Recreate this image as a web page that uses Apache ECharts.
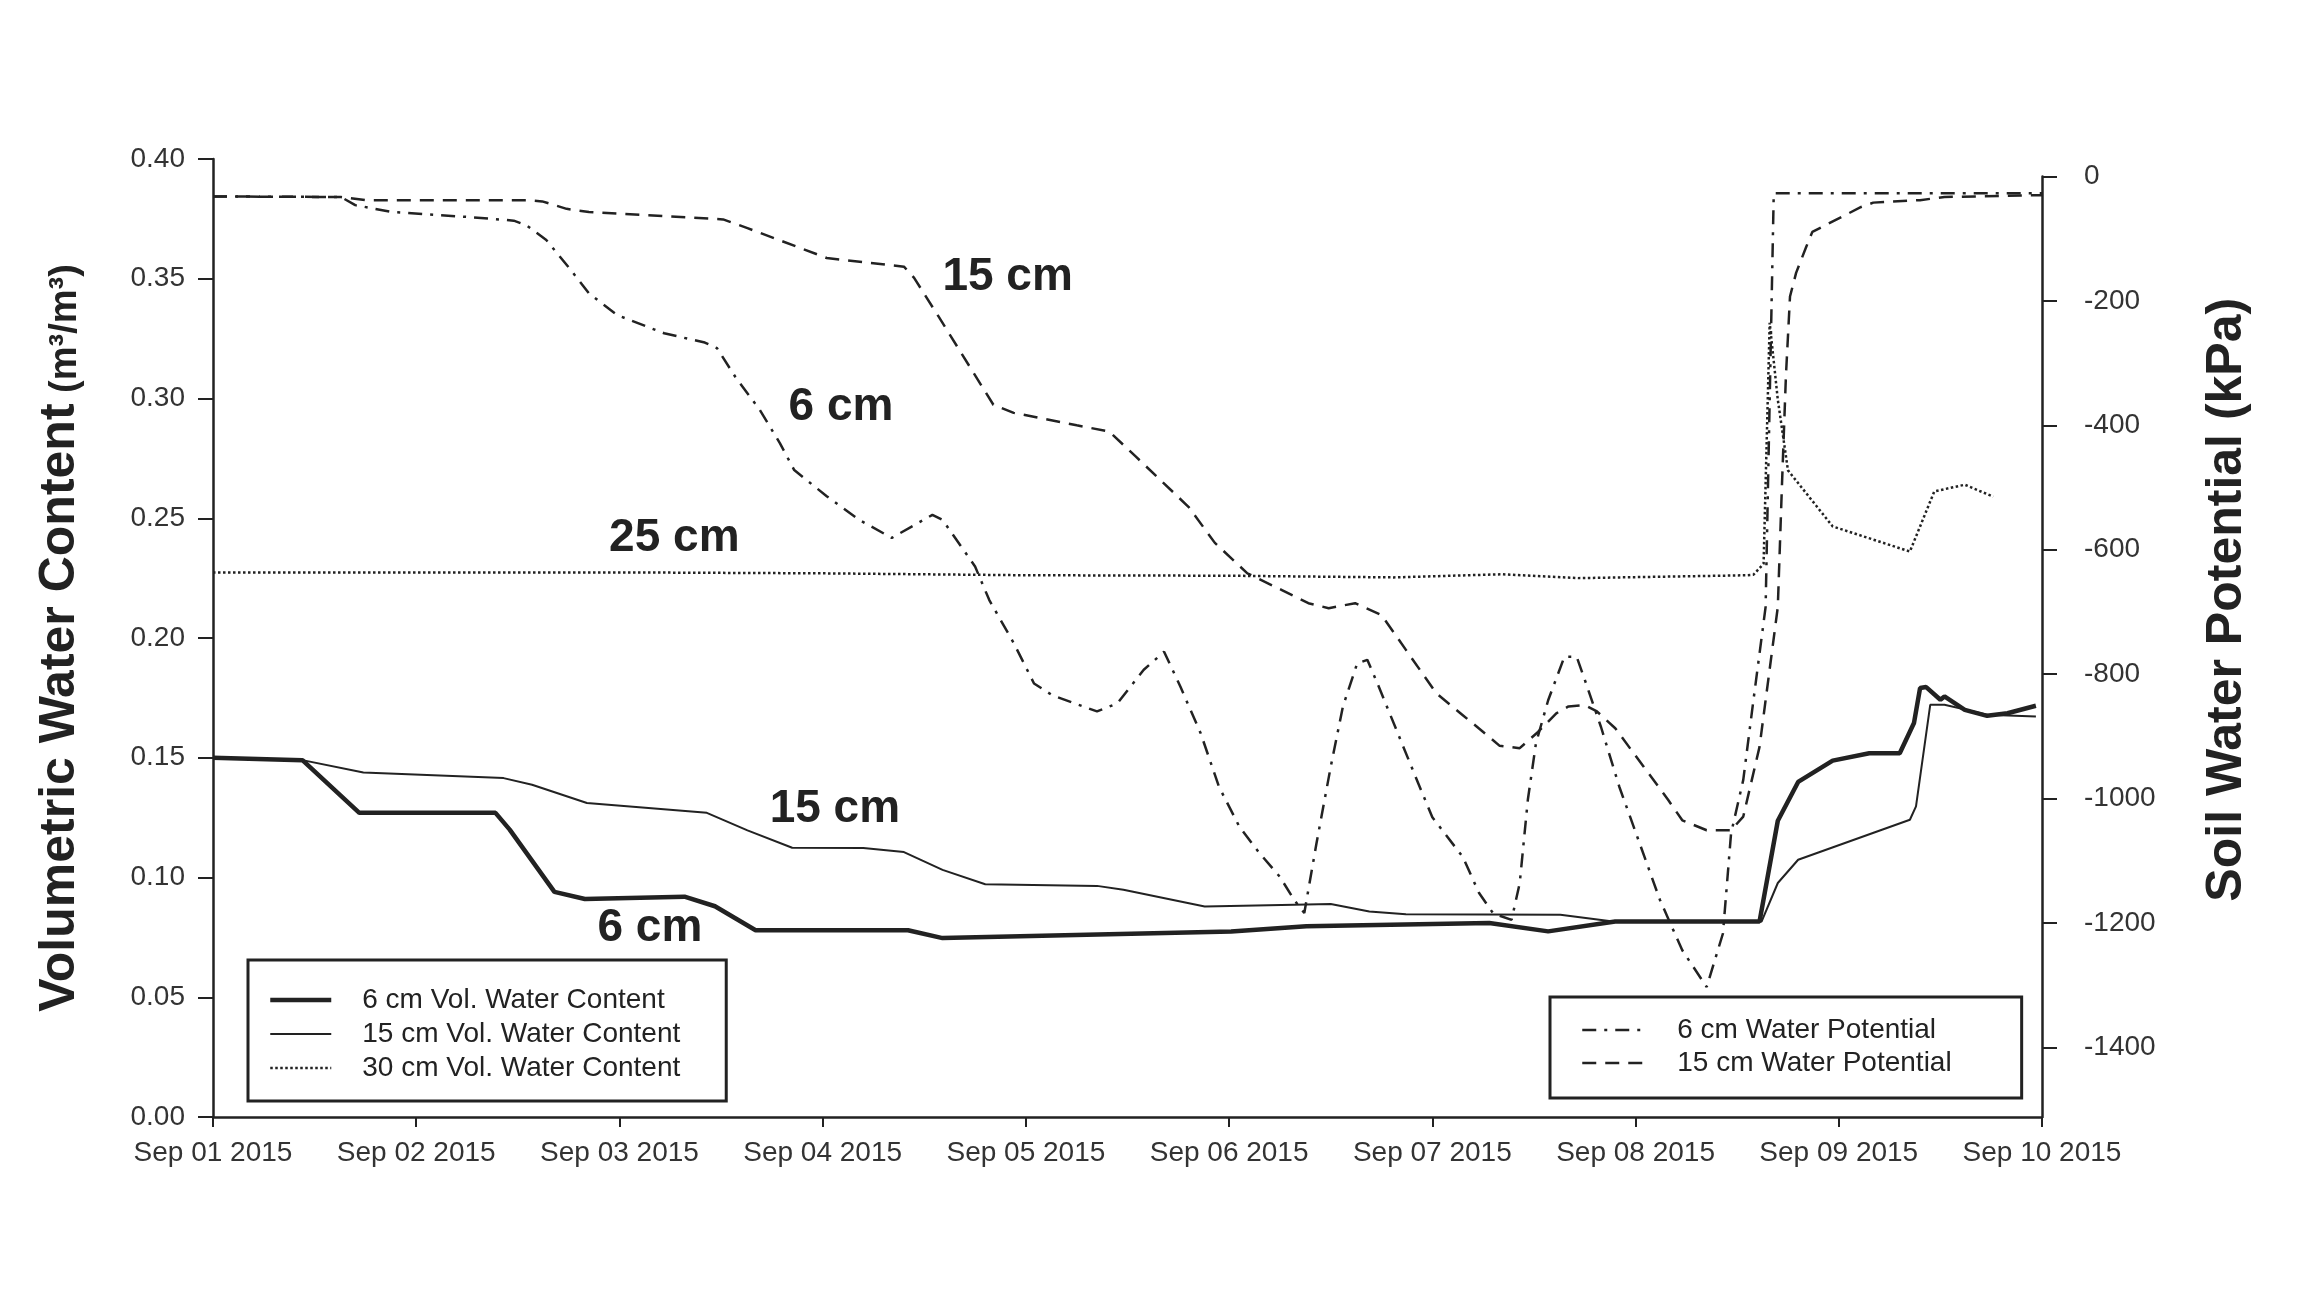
<!DOCTYPE html>
<html>
<head>
<meta charset="utf-8">
<script src="https://cdn.jsdelivr.net/npm/echarts@6/dist/echarts.min.js"></script>
<style>
  html, body { margin: 0; padding: 0; background: #fff; }
  #chart { width: 2310px; height: 1299px; }
</style>
</head>
<body>
<div id="chart"></div>
<script>
// x = days since Sep 01 2015 00:00
var dayLabels = ['Sep 01 2015', 'Sep 02 2015', 'Sep 03 2015', 'Sep 04 2015', 'Sep 05 2015',
                 'Sep 06 2015', 'Sep 07 2015', 'Sep 08 2015', 'Sep 09 2015', 'Sep 10 2015'];
var kpaTicks = [0, -200, -400, -600, -800, -1000, -1200, -1400];

// volumetric water content (m3/m3)
var vwc6 = [[0, 0.150], [0.44, 0.149], [0.72, 0.127], [1.39, 0.127], [1.46, 0.120], [1.68, 0.094],
  [1.83, 0.091], [2.32, 0.092], [2.47, 0.088], [2.67, 0.078], [3.42, 0.078], [3.59, 0.0747],
  [5.01, 0.0775], [5.38, 0.0796], [6.28, 0.081], [6.57, 0.0775], [6.90, 0.0816], [7.61, 0.0816],
  [7.70, 0.1237], [7.80, 0.1399], [7.97, 0.1488], [8.15, 0.1519], [8.30, 0.1519], [8.37, 0.1645],
  [8.40, 0.1791], [8.43, 0.1795], [8.50, 0.1742], [8.52, 0.1756], [8.62, 0.170], [8.73, 0.1675],
  [8.83, 0.1686], [8.97, 0.1717]];
var vwc15 = [[0, 0.150], [0.44, 0.149], [0.74, 0.1438], [1.43, 0.1415], [1.57, 0.1387], [1.84, 0.1311],
  [2.43, 0.127], [2.63, 0.1197], [2.85, 0.1124], [3.20, 0.1123], [3.40, 0.1106], [3.59, 0.1032],
  [3.80, 0.0972], [4.35, 0.0965], [4.48, 0.0949], [4.88, 0.0879], [5.32, 0.0886], [5.50, 0.0889],
  [5.69, 0.0858], [5.87, 0.0847], [6.63, 0.0844], [6.87, 0.0818], [7.62, 0.0816], [7.70, 0.0977],
  [7.80, 0.1074], [8.35, 0.1241], [8.38, 0.1297], [8.45, 0.1721], [8.52, 0.1721], [8.73, 0.168],
  [8.97, 0.1672]];
var vwc30 = [[0, 0.2274], [2.0, 0.2274], [3.0, 0.2270], [4.0, 0.2262], [5.0, 0.2260], [5.81, 0.2253],
  [6.34, 0.2266], [6.72, 0.2250], [7.55, 0.2262], [7.58, 0.2264], [7.63, 0.231], [7.66, 0.3316],
  [7.70, 0.2995], [7.75, 0.270], [7.97, 0.2466], [8.35, 0.2361], [8.47, 0.2612], [8.62, 0.264],
  [8.76, 0.259]];

// soil water potential (kPa)
var wp6 = [[0, -32], [0.63, -33], [0.70, -46], [0.88, -57], [1.25, -65], [1.48, -71], [1.54, -78],
  [1.64, -102], [1.76, -150], [1.85, -188], [1.99, -223], [2.22, -252], [2.42, -267], [2.48, -276],
  [2.57, -322], [2.69, -375], [2.79, -429], [2.86, -472], [3.02, -514], [3.18, -552], [3.34, -581],
  [3.54, -544], [3.59, -552], [3.75, -627], [3.82, -681], [3.94, -750], [4.04, -815], [4.13, -834],
  [4.35, -860], [4.45, -847], [4.58, -793], [4.68, -764], [4.76, -820], [4.86, -895], [4.95, -981],
  [5.05, -1045], [5.15, -1088], [5.25, -1126], [5.32, -1163], [5.37, -1184], [5.43, -1072],
  [5.50, -949], [5.56, -852], [5.63, -783], [5.68, -777], [5.73, -815], [5.83, -895], [5.93, -975],
  [6.00, -1030], [6.15, -1094], [6.23, -1152], [6.30, -1185], [6.39, -1195], [6.43, -1136],
  [6.47, -1002], [6.51, -911], [6.57, -842], [6.65, -772], [6.71, -772], [6.75, -809], [6.83, -885],
  [6.92, -981], [7.02, -1072], [7.12, -1163], [7.23, -1244], [7.35, -1303], [7.43, -1217],
  [7.47, -1056], [7.53, -970], [7.58, -842], [7.64, -692], [7.68, -27], [9.0, -27]];
var wp15 = [[0, -32], [0.63, -33], [0.75, -38], [1.55, -38], [1.62, -40], [1.74, -52], [1.85, -57],
  [2.51, -69], [2.63, -83], [3.02, -131], [3.40, -145], [3.45, -163], [3.57, -225], [3.84, -367],
  [3.94, -380], [4.25, -400], [4.41, -410], [4.54, -450], [4.80, -531], [4.93, -589], [5.09, -638],
  [5.26, -665], [5.39, -686], [5.49, -694], [5.62, -686], [5.75, -705], [5.87, -761], [6.02, -831],
  [6.15, -866], [6.28, -901], [6.33, -915], [6.43, -919], [6.52, -893], [6.61, -863], [6.67, -852],
  [6.75, -850], [6.81, -860], [6.90, -887], [7.04, -949], [7.16, -1002], [7.23, -1035], [7.35, -1051],
  [7.47, -1051], [7.53, -1029], [7.61, -917], [7.70, -692], [7.72, -500], [7.74, -320], [7.76, -193],
  [7.79, -155], [7.84, -113], [7.87, -89], [8.11, -49], [8.17, -42], [8.40, -38], [8.52, -33],
  [9.0, -30]];

// depth labels written on the plot (day, m3/m3)
var noteText = ['15 cm', '6 cm', '25 cm', '15 cm', '6 cm'];
var noteDay = [3.91, 3.09, 2.27, 3.06, 2.15];
var noteVwc = [0.3504, 0.2963, 0.2418, 0.1283, 0.0786];

var ink = '#222';
var font = 'Liberation Sans';

var chart = echarts.init(document.getElementById('chart'));

var notes = noteText.map(function (t, i) {
  return { name: t, coord: [noteDay[i], noteVwc[i]] };
});

var option = {
  animation: false,
  backgroundColor: '#fff',
  textStyle: { fontFamily: font, color: ink },
  grid: [
    { left: 213, right: 268, top: 159, bottom: 182 },
    { left: 213, right: 268, top: 176.5, bottom: 182 }
  ],
  legend: [
    {
      orient: 'vertical', left: 248, top: 960,
      itemWidth: 61, itemHeight: 20, itemGap: 6,
      padding: [26, 46, 19, 20],
      borderColor: ink, borderWidth: 3,
      itemStyle: { opacity: 0 },
      textStyle: { fontSize: 28, color: ink, fontFamily: font, padding: [0, 0, 0, 26] },
      data: [
        { name: '6 cm Vol. Water Content', lineStyle: { width: 4.5, type: 'solid' } },
        { name: '15 cm Vol. Water Content', lineStyle: { width: 2, type: 'solid' } },
        { name: '30 cm Vol. Water Content', lineStyle: { width: 2.5, type: [2.5, 2.5] } }
      ]
    },
    {
      orient: 'vertical', left: 1550, top: 997,
      itemWidth: 60, itemHeight: 20, itemGap: 5,
      padding: [19, 70, 21, 31],
      borderColor: ink, borderWidth: 3,
      itemStyle: { opacity: 0 },
      textStyle: { fontSize: 28, color: ink, fontFamily: font, padding: [0, 0, 0, 30] },
      data: [
        { name: '6 cm Water Potential', lineStyle: { width: 2.5, type: [14, 8, 3, 8] } },
        { name: '15 cm Water Potential', lineStyle: { width: 2.5, type: [14, 9] } }
      ]
    }
  ],
  xAxis: [
    {
      type: 'value', gridIndex: 0, min: 0, max: 9, interval: 1,
      axisLine: { onZero: false, lineStyle: { color: ink, width: 2.5 } },
      axisTick: { length: 10, lineStyle: { color: ink, width: 2 } },
      axisLabel: {
        fontSize: 28, color: '#333', fontFamily: font, margin: 22,
        formatter: function (v) { return dayLabels[Math.round(v)]; }
      },
      splitLine: { show: false }
    },
    { type: 'value', gridIndex: 1, min: 0, max: 9, show: false, axisLine: { onZero: false } }
  ],
  yAxis: [
    {
      type: 'value', gridIndex: 0, position: 'left', min: 0, max: 0.4, interval: 0.05,
      name: '{a|Volumetric Water Content}{b| (m\u00b3/m\u00b3)}',
      nameLocation: 'middle', nameRotate: 90, nameGap: 128,
      nameTextStyle: {
        rich: {
          a: { fontSize: 50, fontWeight: 'bold', fontFamily: font, color: ink, verticalAlign: 'bottom', lineHeight: 50 },
          b: { fontSize: 38, fontWeight: 'bold', fontFamily: font, color: ink, verticalAlign: 'bottom', lineHeight: 50 }
        }
      },
      axisLine: { show: true, onZero: false, lineStyle: { color: ink, width: 2.5 } },
      axisTick: { show: true, length: 15, lineStyle: { color: ink, width: 2 } },
      axisLabel: {
        fontSize: 28, color: '#333', fontFamily: font, margin: 28,
        formatter: function (v) { return v.toFixed(2); }
      },
      splitLine: { show: false }
    },
    {
      type: 'value', gridIndex: 1, position: 'right', min: -1512, max: 0,
      name: 'Soil Water Potential (kPa)',
      nameLocation: 'middle', nameRotate: 90, nameGap: 160,
      nameTextStyle: { fontSize: 50, fontWeight: 'bold', fontFamily: font, color: ink, padding: [0, 0, 0, 94] },
      axisLine: { show: true, onZero: false, lineStyle: { color: ink, width: 2.5 } },
      axisTick: { show: true, length: 15, customValues: kpaTicks, lineStyle: { color: ink, width: 2 } },
      axisLabel: {
        fontSize: 28, color: '#333', fontFamily: font, margin: 42, customValues: kpaTicks,
        formatter: function (v) { return String(v); }
      },
      splitLine: { show: false }
    }
  ],
  series: [
    {
      name: '6 cm Vol. Water Content', type: 'line', xAxisIndex: 0, yAxisIndex: 0,
      data: vwc6, symbol: 'none', lineStyle: { color: ink, width: 4.5 }, itemStyle: { color: ink }
    },
    {
      name: '15 cm Vol. Water Content', type: 'line', xAxisIndex: 0, yAxisIndex: 0,
      data: vwc15, symbol: 'none', lineStyle: { color: ink, width: 2 }, itemStyle: { color: ink }
    },
    {
      name: '30 cm Vol. Water Content', type: 'line', xAxisIndex: 0, yAxisIndex: 0,
      data: vwc30, symbol: 'none', lineStyle: { color: ink, width: 2.5, type: [2.5, 2.5] }, itemStyle: { color: ink },
      markPoint: {
        symbol: 'circle', symbolSize: 0, silent: true,
        label: { show: true, position: 'inside', formatter: '{b}', fontSize: 46, fontWeight: 'bold', color: ink, fontFamily: font },
        data: notes
      }
    },
    {
      name: '6 cm Water Potential', type: 'line', xAxisIndex: 1, yAxisIndex: 1,
      data: wp6, symbol: 'none', lineStyle: { color: ink, width: 2.5, type: [14, 8, 3, 8] }, itemStyle: { color: ink }
    },
    {
      name: '15 cm Water Potential', type: 'line', xAxisIndex: 1, yAxisIndex: 1,
      data: wp15, symbol: 'none', lineStyle: { color: ink, width: 2.5, type: [14, 9] }, itemStyle: { color: ink }
    }
  ]
};

chart.setOption(option);
</script>
</body>
</html>
